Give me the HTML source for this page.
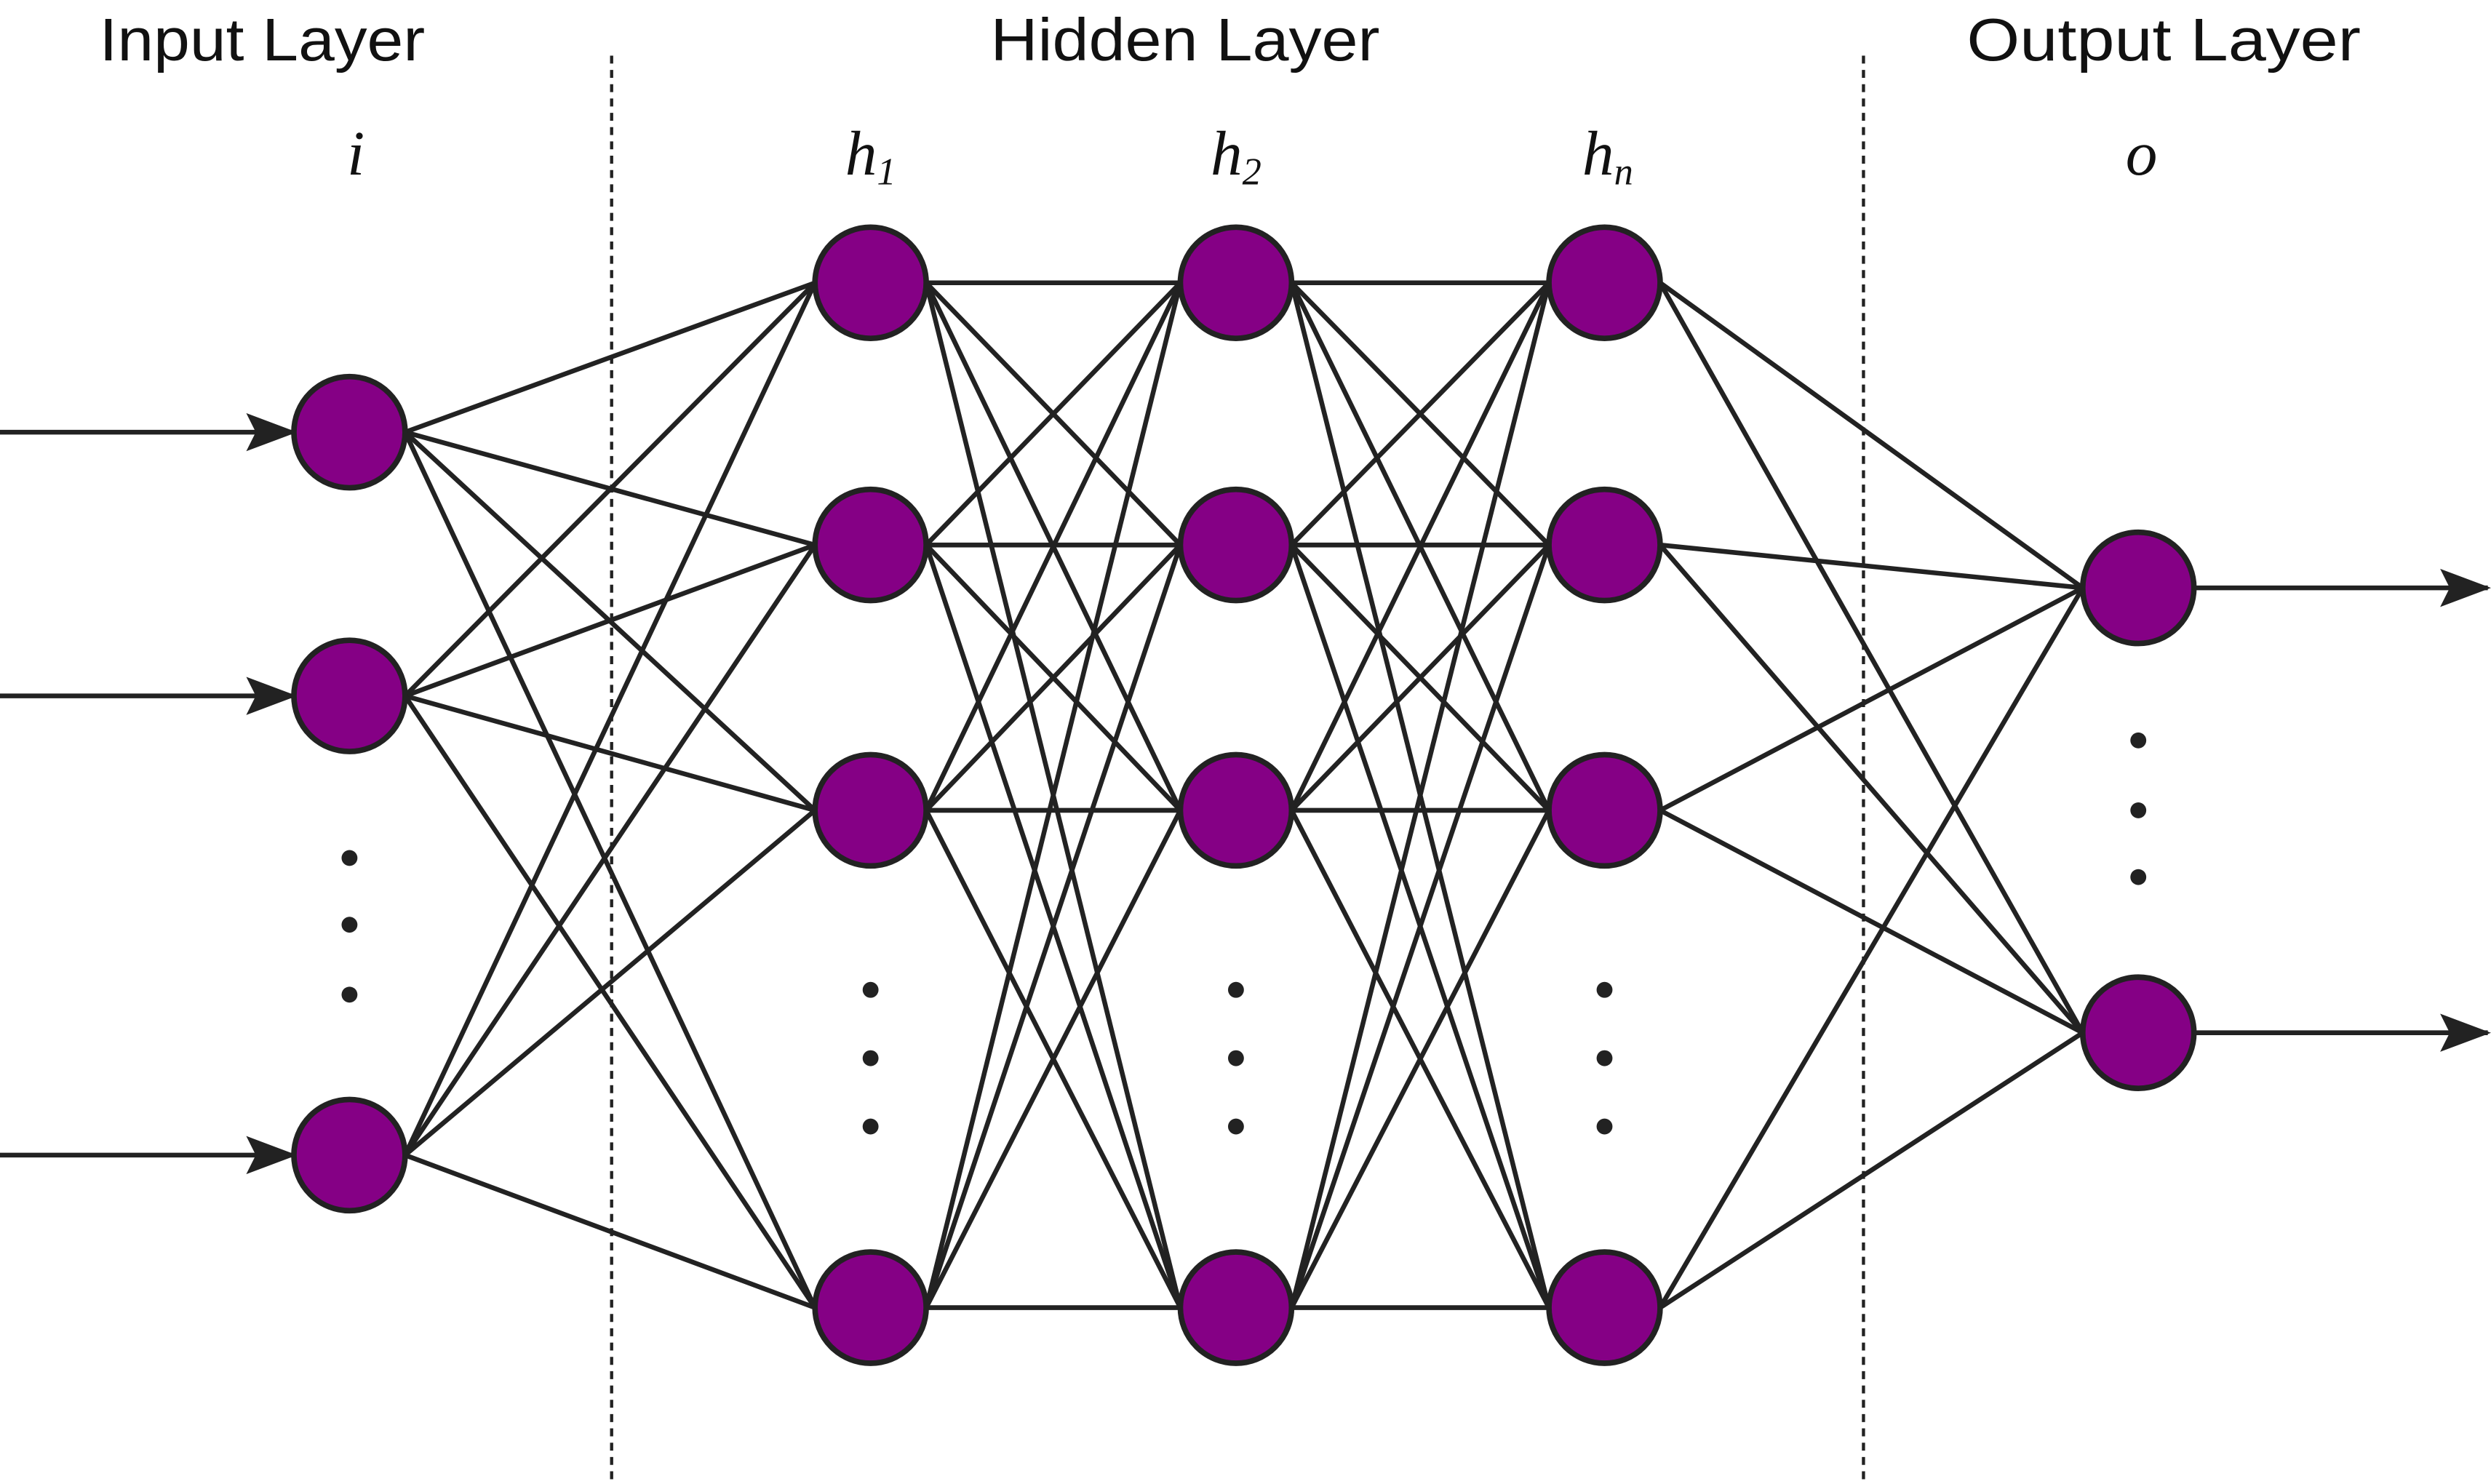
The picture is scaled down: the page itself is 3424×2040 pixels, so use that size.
<!DOCTYPE html>
<html><head><meta charset="utf-8"><style>
html,body{margin:0;padding:0;background:#fff;}
svg{display:block;}
</style></head><body>
<svg width="3424" height="2040" viewBox="0 0 1568 934" preserveAspectRatio="none" xmlns="http://www.w3.org/2000/svg">
<defs><marker id="ah" markerWidth="32" markerHeight="24" refX="30" refY="12" orient="auto" markerUnits="userSpaceOnUse" viewBox="0 0 32 24"><path d="M0,0 L32,12 L0,24 L6,12 Z" fill="#222"/></marker></defs>
<g font-family="Liberation Sans, sans-serif" font-size="38" fill="#111" text-anchor="middle">
<text x="165" y="38" textLength="205" lengthAdjust="spacingAndGlyphs">Input Layer</text>
<text x="746" y="38" textLength="245" lengthAdjust="spacingAndGlyphs">Hidden Layer</text>
<text x="1362" y="38" textLength="248" lengthAdjust="spacingAndGlyphs">Output Layer</text>
</g>
<g font-family="Liberation Serif, serif" font-style="italic" font-size="40" fill="#111" text-anchor="middle">
<text x="224" y="110">i</text>
<text x="548" y="110">h<tspan font-size="24" dy="6">1</tspan></text>
<text x="778" y="110">h<tspan font-size="24" dy="6">2</tspan></text>
<text x="1012" y="110">h<tspan font-size="24" dy="6">n</tspan></text>
<text x="1348" y="110">o</text>
</g>
<line x1="385" y1="35" x2="385" y2="934" stroke="#222" stroke-width="2" stroke-dasharray="5,4"/>
<line x1="1173" y1="35" x2="1173" y2="934" stroke="#222" stroke-width="2" stroke-dasharray="5,4"/>
<g id="edges"></g>
<g id="nodes"></g>
<g id="dots"></g>
</svg>
<script>
const layerX = [220, 548, 778, 1010, 1346];
const layerNodes = [[272, 438, 727],[178, 343, 510, 823],[178, 343, 510, 823],[178, 343, 510, 823],[370, 650]];
const layerDots = [[540, 582, 626],[623, 666, 709],[623, 666, 709],[623, 666, 709],[466, 510, 552]];
const R = 35;
const NS = 'http://www.w3.org/2000/svg';
const E = document.getElementById('edges'), N = document.getElementById('nodes'), D = document.getElementById('dots');
function mk(tag, attrs, parent){const el=document.createElementNS(NS,tag);for(const k in attrs)el.setAttribute(k,attrs[k]);parent.appendChild(el);return el;}
for(let l=0;l<layerX.length-1;l++){
  for(const y1 of layerNodes[l]) for(const y2 of layerNodes[l+1]){
    const ln = mk('line',{x1:layerX[l]+R,y1:y1,x2:layerX[l+1]-R,y2:y2,stroke:'#222','stroke-width':3},E);
    
    
  }
}
for(const y of layerNodes[0]){
  const a = mk('line',{x1:0,y1:y,x2:layerX[0]-R,y2:y,stroke:'#222','stroke-width':3,'marker-end':'url(#ah)'},E);
  
  
}
for(const y of layerNodes[4]){
  const a = mk('line',{x1:layerX[4]+R,y1:y,x2:1566,y2:y,stroke:'#222','stroke-width':3,'marker-end':'url(#ah)'},E);
  
  
}
layerX.forEach((x,l)=>{
  layerNodes[l].forEach(y=>{
    const c = mk('circle',{cx:x,cy:y,r:R,fill:'#850085',stroke:'#222','stroke-width':3.5},N);
    
    
  });
  layerDots[l].forEach(y=>{
    const d = mk('circle',{cx:x,cy:y,r:5,fill:'#222'},D);
    
    
  });
});
</script>
</body></html>
